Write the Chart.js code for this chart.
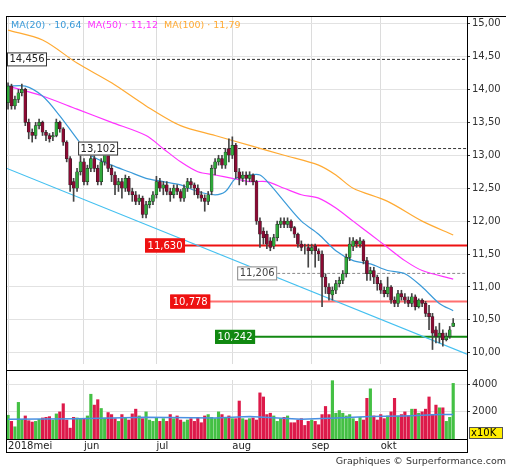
<!DOCTYPE html>
<html><head><meta charset="utf-8">
<script src="https://cdn.jsdelivr.net/npm/chart.js@4.4.0/dist/chart.umd.min.js"></script>
<style>
body{margin:0;background:#fff;width:512px;height:470px;overflow:hidden;font-family:"DejaVu Sans",sans-serif}
#c1{position:absolute;left:0;top:0}
#c2{position:absolute;left:0;top:372px}
.fr{position:absolute;border-color:#000;border-style:solid;border-width:0}
#leg{position:absolute;left:11px;top:19px;font-size:9.5px;white-space:nowrap}
#credit{position:absolute;right:6px;top:455px;font-size:9.5px;color:#333}
</style></head><body>
<canvas id="c1" width="512" height="372"></canvas>
<canvas id="c2" width="512" height="80"></canvas>
<div class="fr" style="left:6px;top:16px;width:500px;border-top-width:1.5px"></div>
<div class="fr" style="left:6px;top:16px;height:436px;border-left-width:1.5px"></div>
<div class="fr" style="left:6px;top:370px;width:462px;border-top-width:1.5px"></div>
<div class="fr" style="left:6px;top:439px;width:462px;border-top-width:1.5px"></div>
<div class="fr" style="left:6px;top:452px;width:462px;border-top-width:1.5px"></div>
<div class="fr" style="left:467px;top:16px;height:436px;border-left-width:1px"></div>
<div id="leg"><span style="color:#3a9ad9">MA(20) · 10,64</span>&nbsp; <span style="color:#ff33ff">MA(50) · 11,12</span>&nbsp; <span style="color:#ffaa33">MA(100) · 11,79</span></div>
<div id="credit">Graphiques © Surperformance.com</div>
<script>
const monthStarts=[0,22,43,65,88,108];
const monthNames=['2018mei','jun','jul','aug','sep','okt'];
const closes=[14.05,13.75,13.85,13.95,14.00,13.50,13.35,13.30,13.45,13.50,13.35,13.30,13.25,13.30,13.50,13.40,13.20,12.95,12.55,12.50,12.75,12.90,
12.60,12.80,12.95,12.80,12.60,12.90,13.00,12.80,12.70,12.55,12.60,12.50,12.65,12.45,12.40,12.30,12.35,12.10,12.25,12.30,12.40,
12.60,12.50,12.55,12.45,12.40,12.50,12.45,12.35,12.50,12.60,12.55,12.50,12.40,12.35,12.30,12.40,12.80,12.90,12.95,12.85,13.05,13.00,
13.15,12.75,12.65,12.70,12.65,12.70,12.60,12.00,11.80,11.75,11.65,11.60,11.75,11.95,12.00,11.95,12.00,11.90,11.80,11.65,11.60,11.60,11.55,
11.60,11.55,11.50,11.15,11.00,10.90,10.95,11.05,11.10,11.20,11.45,11.65,11.70,11.65,11.70,11.40,11.20,11.25,11.15,11.05,
10.95,10.90,11.00,10.80,10.75,10.90,10.85,10.80,10.75,10.85,10.70,10.80,10.75,10.60,10.55,10.30,10.25,10.30,10.20,10.25,10.35,10.45];
const opens=[13.80,14.05,13.75,13.85,13.95,14.00,13.50,13.35,13.30,13.45,13.50,13.35,13.30,13.28,13.30,13.50,13.40,13.20,12.95,12.60,12.50,12.75,
12.90,12.60,12.80,12.95,12.80,12.60,12.90,13.00,12.80,12.70,12.55,12.60,12.50,12.65,12.45,12.40,12.30,12.35,12.10,12.25,12.30,
12.40,12.60,12.50,12.55,12.45,12.40,12.50,12.45,12.35,12.50,12.60,12.55,12.50,12.40,12.35,12.30,12.45,12.80,12.90,12.95,12.85,13.10,
13.00,13.15,12.75,12.65,12.70,12.65,12.70,12.60,12.00,11.85,11.80,11.70,11.62,11.75,11.95,12.00,11.95,12.00,11.90,11.80,11.65,11.62,11.60,
11.55,11.62,11.55,11.50,11.15,11.00,10.88,10.95,11.05,11.10,11.20,11.45,11.62,11.70,11.65,11.70,11.40,11.20,11.25,11.15,
11.05,10.95,10.90,11.00,10.80,10.75,10.90,10.85,10.80,10.75,10.85,10.70,10.80,10.75,10.60,10.55,10.35,10.25,10.30,10.20,10.25,10.40];
const highs=[14.10,14.08,13.90,14.00,14.08,14.02,13.55,13.40,13.50,13.55,13.52,13.38,13.33,13.35,13.55,13.52,13.42,13.22,12.98,12.65,12.80,13.00,
12.95,12.85,13.00,13.00,12.85,12.95,13.08,13.05,12.85,12.75,12.65,12.65,12.70,12.68,12.50,12.45,12.40,12.38,12.30,12.35,12.45,
12.68,12.65,12.60,12.60,12.50,12.55,12.55,12.48,12.55,12.65,12.65,12.58,12.55,12.45,12.40,12.45,12.85,12.95,13.00,13.00,13.10,13.25,
13.28,13.18,12.80,12.75,12.75,12.75,12.72,12.62,12.05,11.90,11.85,11.75,11.80,12.00,12.05,12.05,12.05,12.02,11.92,11.82,11.70,11.65,11.65,
11.65,11.65,11.58,11.55,11.20,11.05,11.00,11.10,11.15,11.25,11.50,11.75,11.75,11.72,11.75,11.72,11.45,11.30,11.30,11.18,
11.10,11.00,11.15,11.02,10.85,10.95,10.95,10.90,10.85,10.90,10.88,10.82,10.82,10.78,10.72,10.60,10.40,10.45,10.35,10.30,10.40,10.52];
const lows=[13.70,13.70,13.70,13.80,13.90,13.45,13.25,13.20,13.25,13.40,13.30,13.22,13.20,13.22,13.28,13.35,13.15,12.90,12.45,12.30,12.45,12.70,
12.55,12.55,12.75,12.75,12.55,12.55,12.85,12.75,12.60,12.40,12.45,12.35,12.45,12.40,12.30,12.25,12.25,12.05,12.05,12.20,12.25,
12.35,12.45,12.40,12.40,12.30,12.35,12.40,12.30,12.30,12.45,12.50,12.40,12.35,12.30,12.15,12.25,12.40,12.70,12.85,12.80,12.80,12.90,
12.95,12.65,12.55,12.60,12.55,12.60,12.55,11.95,11.60,11.65,11.58,11.55,11.58,11.70,11.90,11.90,11.90,11.85,11.75,11.60,11.55,11.50,11.30,
11.50,11.30,11.40,10.70,10.90,10.80,10.80,10.90,11.00,11.05,11.15,11.40,11.55,11.60,11.60,11.35,11.10,11.10,11.05,10.95,
10.90,10.85,10.85,10.75,10.70,10.70,10.80,10.75,10.70,10.70,10.65,10.68,10.70,10.55,10.35,10.05,10.15,10.15,10.10,10.18,10.22,10.40];
const volumes=[1750,1300,900,2700,1450,1700,1350,1250,1300,1450,1550,1600,1650,1400,1850,2000,2600,1400,800,1600,1550,1500,
1500,1700,3300,2500,2900,2250,1550,1950,1800,1500,1300,1800,1600,1400,1850,2200,1700,1500,2000,1400,1300,
1600,1300,1500,1300,1800,1500,1700,1400,1250,1400,1500,1300,1600,1200,1700,1800,1600,1500,2000,1800,1600,1700,
1500,1500,2800,1500,1400,1500,1550,1400,3400,3100,1800,1900,1700,1300,1500,1600,1700,1200,1200,1400,1500,1000,1300,
1400,1300,1050,1800,2400,1800,4300,1900,2100,1900,1700,1800,1500,1300,1600,1400,3000,3700,1700,1400,
1800,1500,1700,2000,3000,1700,1800,2000,1700,2200,2200,1900,2000,2200,3100,1800,2500,2300,2300,1300,1600,4100];
const ma20X=[0,5,10,15,20,24,30,35,40,45,50,55,60,63,66,70,73,76,80,85,90,95,100,105,110,115,120,125,129];
const ma20=[14.05,14.05,13.9,13.6,13.25,13.0,12.85,12.75,12.65,12.6,12.55,12.45,12.4,12.45,12.65,12.7,12.7,12.55,12.3,12.0,11.8,11.55,11.4,11.35,11.25,11.2,11.0,10.75,10.64];
const ma50X=[0,10,20,30,40,45,50,55,60,65,70,75,80,85,90,95,100,105,110,115,120,129];
const ma50=[14.05,13.9,13.7,13.5,13.3,13.1,12.9,12.75,12.7,12.65,12.6,12.6,12.5,12.4,12.35,12.2,12.0,11.8,11.6,11.4,11.25,11.12];
const ma100X=[0,10,20,30,40,50,60,70,80,90,95,100,110,120,129];
const ma100=[14.9,14.75,14.4,14.1,13.75,13.45,13.3,13.15,13.0,12.85,12.7,12.5,12.3,12.0,11.79];
const channelX=[-0.3,133], channelY=[12.8,9.98];
const volMaX=[0,20,40,60,70,85,95,105,115,125,129];
const volMa=[1450,1500,1600,1550,1650,1450,1550,1650,1700,1800,1800];
const levels=[14.456,13.102,11.630,11.206,10.778,10.242];
const levelStart=[-0.3,20.3,39.7,66.4,47,60];
const levelLabels=['14,456','13,102','11,630','11,206','10,778','10,242'];
const levelStyle=[
 {line:'#333',dash:[3,2],w:1,box:'#fff',bd:'#333',tc:'#222'},
 {line:'#333',dash:[3,2],w:1,box:'#fff',bd:'#333',tc:'#222'},
 {line:'#ee1111',dash:[],w:2,box:'#ee1111',bd:'#ee1111',tc:'#fff'},
 {line:'#888',dash:[3,2],w:1,box:'#fff',bd:'#888',tc:'#444'},
 {line:'#ff6f6f',dash:[],w:2,box:'#ee1111',bd:'#ee1111',tc:'#fff'},
 {line:'#118811',dash:[],w:2,box:'#118811',bd:'#118811',tc:'#fff'}];
const priceTicks=[10,10.5,11,11.5,12,12.5,13,13.5,14,14.5,15];

const idx=closes.map((_,i)=>i);
const up=idx.map(i=>closes[i]>=opens[i]);
const fmt=v=>v.toFixed(2).replace('.',',');
const font={family:'DejaVu Sans',size:10};
const xScale={type:'linear',min:-0.3,max:133,offset:false,
  afterBuildTicks:s=>{s.ticks=monthStarts.map(v=>({value:v}));},
  grid:{color:'#dcdcdc',drawTicks:false,offset:false},border:{display:false},
  ticks:{display:false}, afterFit:s=>{s.height=1;}};

const levelPlugin={id:'lv',afterDatasetsDraw(ch){
  const c=ch.ctx,x=ch.scales.x,y=ch.scales.y;
  c.save();c.font='10px "DejaVu Sans"';c.textBaseline='middle';
  levels.forEach((v,i)=>{const st=levelStyle[i];const px=x.getPixelForValue(levelStart[i]),py=y.getPixelForValue(v);
    const tw=c.measureText(levelLabels[i]).width+5;
    c.fillStyle=st.box;c.fillRect(px,py-7,tw,14);c.strokeStyle=st.bd;c.lineWidth=1;c.strokeRect(px+0.5,py-6.5,tw-1,13);
    c.fillStyle=st.tc;c.fillText(levelLabels[i],px+2.5,py+0.5);});
  c.restore();}};

const ds=[];
levels.forEach((v,i)=>ds.push({type:'line',data:[{x:levelStart[i],y:v},{x:133,y:v}],borderColor:levelStyle[i].line,borderDash:levelStyle[i].dash,borderWidth:levelStyle[i].w,pointRadius:0,order:5}));
ds.push({type:'line',data:channelX.map((x,i)=>({x,y:channelY[i]})),borderColor:'#44c0f0',borderWidth:1.2,pointRadius:0,order:4});
ds.push({type:'line',data:ma100X.map((x,i)=>({x,y:ma100[i]})),borderColor:'#ffaa33',borderWidth:1.2,pointRadius:0,tension:0.3,order:4});
ds.push({type:'line',data:ma50X.map((x,i)=>({x,y:ma50[i]})),borderColor:'#ff33ff',borderWidth:1.2,pointRadius:0,tension:0.3,order:4});
ds.push({type:'line',data:ma20X.map((x,i)=>({x,y:ma20[i]})),borderColor:'#3a9ad9',borderWidth:1.2,pointRadius:0,tension:0.3,order:3});
ds.push({type:'bar',data:idx.map(i=>({x:i,y:[lows[i],highs[i]]})),backgroundColor:'#444',barThickness:1,grouped:false,order:2});
ds.push({type:'bar',data:idx.map(i=>({x:i,y:[opens[i],closes[i]+(Math.abs(closes[i]-opens[i])<0.02?0.02:0)]})),backgroundColor:idx.map(i=>up[i]?'#2fa83a':'#8a0a33'),borderColor:'#222',borderWidth:0.5,borderSkipped:false,barThickness:3,grouped:false,order:1});

new Chart(document.getElementById('c1'),{data:{datasets:ds},plugins:[levelPlugin],
 options:{responsive:false,animation:false,events:[],layout:{padding:{left:7,top:17,right:0,bottom:0}},
  plugins:{legend:{display:false},tooltip:{enabled:false}},
  scales:{x:xScale,
   y:{position:'right',min:9.83,max:15.1,
    afterBuildTicks:s=>{s.ticks=priceTicks.map(v=>({value:v}));},
    afterFit:s=>{s.width=45;},
    grid:{color:'#e2e2e2',tickColor:'#333',tickLength:3,drawOnChartArea:true},border:{display:false},
    ticks:{color:'#333',font,padding:2,callback:v=>fmt(v)}}}}});

new Chart(document.getElementById('c2'),{data:{datasets:[
  {type:'line',data:volMaX.map((x,i)=>({x,y:volMa[i]})),borderColor:'#4a90e2',borderWidth:1.5,pointRadius:0,order:1},
  {type:'bar',data:idx.map(i=>({x:i,y:volumes[i]})),backgroundColor:idx.map(i=>up[i]?'#44c044':'#dd1a4a'),barThickness:2.5,grouped:false,order:2}]},
 plugins:[{id:'x10k',afterDraw(ch){const c=ch.ctx;c.save();c.fillStyle='#ffee00';c.fillRect(469,55,34,12);c.strokeStyle='#555';c.strokeRect(469.5,55.5,33,11);
   c.fillStyle='#000';c.font='10px "DejaVu Sans"';c.textBaseline='middle';c.fillText('x10K',471,61.5);c.restore();}}],
 options:{responsive:false,animation:false,events:[],layout:{padding:{left:7,top:1,right:0,bottom:0}},
  plugins:{legend:{display:false},tooltip:{enabled:false}},
  scales:{x:{...xScale,ticks:{display:true,align:'start',color:'#222',font,padding:1,callback:(v)=>{const k=monthStarts.indexOf(v);return k>=0?monthNames[k]:'';}},afterFit:s=>{s.height=13;}},
   y:{position:'right',min:0,max:4350,afterBuildTicks:s=>{s.ticks=[{value:2000},{value:4000}];},afterFit:s=>{s.width=45;},
    grid:{color:'#e2e2e2',tickColor:'#333',tickLength:3},border:{display:false},ticks:{color:'#333',font,padding:2,callback:v=>String(v)}}}}});
</script></body></html>
